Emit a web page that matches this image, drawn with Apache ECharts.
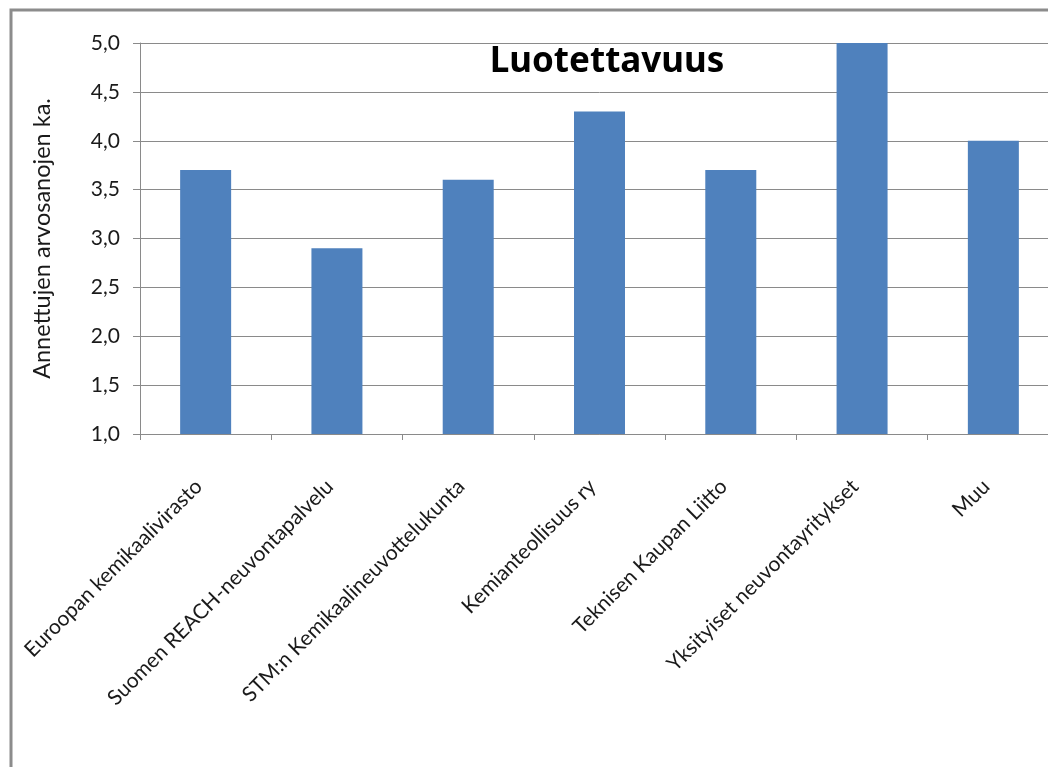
<!DOCTYPE html>
<html><head><meta charset="utf-8">
<script src="https://cdn.jsdelivr.net/npm/echarts@6/dist/echarts.min.js"></script>
<style>html,body{margin:0;padding:0;background:#fff;overflow:hidden}#c{width:1070px;height:767px}</style>
</head><body><div id="c"></div>
<script>
const categories = ["Euroopan kemikaalivirasto","Suomen REACH-neuvontapalvelu","STM:n Kemikaalineuvottelukunta","Kemianteollisuus ry","Teknisen Kaupan Liitto","Yksityiset neuvontayritykset","Muu"];
const values = [3.7, 2.9, 3.6, 4.3, 3.7, 5.0, 4.0];
const titleText = "Luotettavuus";
const yAxisName = "Annettujen arvosanojen ka.";

const chart = echarts.init(document.getElementById('c'));
const font = "Lato, 'Open Sans', sans-serif";
chart.setOption({
  animation: false,
  graphic: [{type:'rect', shape:{x:11, y:10, width:1100, height:800}, style:{fill:'none', stroke:'#8c8c8c', lineWidth:3}}],
  title: {text: titleText, left: 602, top: 40, textAlign: 'center',
    textStyle: {fontFamily: "'Noto Sans', sans-serif", fontWeight: 'bold', fontSize: 35, color: '#000'}},
  grid: {left: 140, top: 43, width: 919, height: 391},
  xAxis: {type: 'category', data: categories,
    axisLine: {lineStyle: {color: '#8a8a8a', width: 1}},
    axisTick: {show: true, length: 6, alignWithLabel: false, lineStyle: {color: '#8a8a8a'}},
    axisLabel: {rotate: 45, interval: 0, margin: 42, padding: [0, 10, 0, 0], fontFamily: font, fontSize: 21, color: '#1a1a1a'}},
  yAxis: {type: 'value', min: 1, max: 5, interval: 0.5,
    name: yAxisName, nameLocation: 'middle', nameGap: 86, nameRotate: 90,
    nameTextStyle: {fontFamily: font, fontSize: 23.5, color: '#1a1a1a'},
    axisLine: {show: true, lineStyle: {color: '#8a8a8a'}},
    axisTick: {show: true, length: 7, lineStyle: {color: '#8a8a8a'}},
    splitLine: {lineStyle: {color: '#8a8a8a', width: 1}},
    axisLabel: {margin: 20, fontFamily: font, fontSize: 21, color: '#1a1a1a',
      formatter: v => v.toFixed(1).replace('.', ',')}},
  series: [{type: 'bar', data: values, barWidth: 51, itemStyle: {color: '#4F81BD'}}]
});
</script></body></html>
